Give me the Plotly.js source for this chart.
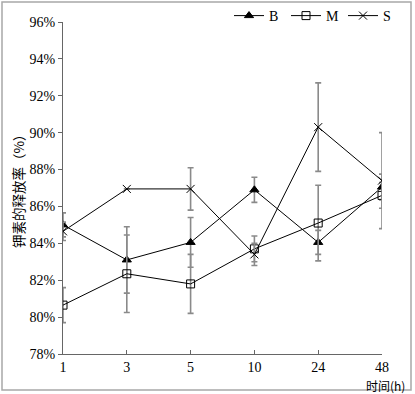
<!DOCTYPE html>
<html>
<head>
<meta charset="utf-8">
<script src="https://cdn.plot.ly/plotly-3.0.1.min.js"></script>
<style>html,body{margin:0;padding:0;background:#fff;}#chart{width:415px;height:394px;}</style>
</head>
<body>
<div id="chart"></div>
<script>
const categories = ['1', '3', '5', '10', '24', '48'];
const seriesB = [85.0, 83.1, 84.05, 86.9, 84.05, 87.05];
const errorB = [0.65, 1.8, 1.35, 0.68, 0.65, 0.7];
const seriesM = [80.65, 82.35, 81.8, 83.7, 85.1, 86.6];
const errorM = [0.95, 2.1, 1.6, 0.7, 2.05, 0.7];
const seriesS = [84.65, 86.95, 86.95, 83.4, 90.3, 87.4];
const errorS = [0.5, null, 1.15, 0.6, 2.4, 2.6];
const yTicks = [78, 80, 82, 84, 86, 88, 90, 92, 94, 96];
const yTickText = ['78%', '80%', '82%', '84%', '86%', '88%', '90%', '92%', '94%', '96%'];

const L = 63, R = 382, T = 22, B = 354, W = 415, H = 394;
const pw = R - L, ph = B - T;
const px = p => (p - L) / pw;
const py = p => (B - p) / ph;

const serif = '"Liberation Serif", "Noto Sans CJK SC", serif';
const cjk = '"Noto Sans CJK SC", sans-serif';
const errStyle = {type: 'data', visible: true, color: '#8a8a8a', thickness: 1.6, width: 3};

function trace(name, y, err, symbol, size) {
  return {
    x: categories, y: y, name: name, type: 'scatter', mode: 'lines+markers',
    line: {color: '#000', width: 1},
    marker: {symbol: symbol, size: size, color: '#000', line: {color: '#000', width: 1}},
    error_y: Object.assign({array: err}, errStyle)
  };
}

const data = [
  trace('B', seriesB, errorB, 'triangle-up', 8),
  trace('M', seriesM, errorM, 'square-open', 8),
  trace('S', seriesS, errorS, 'x-thin-open', 8)
];

const layout = {
  width: W, height: H,
  margin: {l: L, r: W - R, t: T, b: H - B, autoexpand: false},
  paper_bgcolor: '#fff', plot_bgcolor: '#fff',
  font: {family: serif, size: 13, color: '#000'},
  showlegend: true,
  legend: {
    orientation: 'h', x: px(400), xanchor: 'right', y: py(16), yanchor: 'middle',
    font: {family: serif, size: 14, color: '#000'}, itemwidth: 30,
    entrywidth: 12, entrywidthmode: 'pixels',
    bgcolor: 'rgba(0,0,0,0)', traceorder: 'normal'
  },
  xaxis: {
    type: 'category', categoryorder: 'array', categoryarray: categories,
    range: [0, categories.length - 1], showgrid: false, zeroline: false,
    showline: true, linecolor: '#666', linewidth: 1,
    ticks: 'inside', ticklen: 4, tickcolor: '#666',
    tickfont: {family: serif, size: 14, color: '#000'}
  },
  yaxis: {
    range: [78, 96], tickvals: yTicks, ticktext: yTickText,
    showgrid: false, zeroline: false, showline: true, linecolor: '#666', linewidth: 1,
    ticks: 'outside', ticklen: 4, tickcolor: '#666',
    tickfont: {family: serif, size: 14, color: '#000'}
  },
  annotations: [{
    xref: 'paper', yref: 'paper', x: px(407), y: py(385), xanchor: 'right', yanchor: 'middle',
    text: '时间(h)', showarrow: false,
    font: {family: cjk, size: 12, color: '#000'}
  }, {
    xref: 'paper', yref: 'paper', x: px(18), y: py(188), xanchor: 'center', yanchor: 'middle',
    text: '钾素的释放率（%）', showarrow: false, textangle: -90,
    font: {family: cjk, size: 13.5, color: '#000'}
  }],
  shapes: [{
    type: 'rect', xref: 'paper', yref: 'paper',
    x0: px(2), x1: px(411), y0: py(390), y1: py(2),
    line: {color: '#a8a8a8', width: 1.5}, fillcolor: 'rgba(0,0,0,0)'
  }]
};

Plotly.newPlot('chart', data, layout, {displayModeBar: false, staticPlot: true});
</script>
</body>
</html>
